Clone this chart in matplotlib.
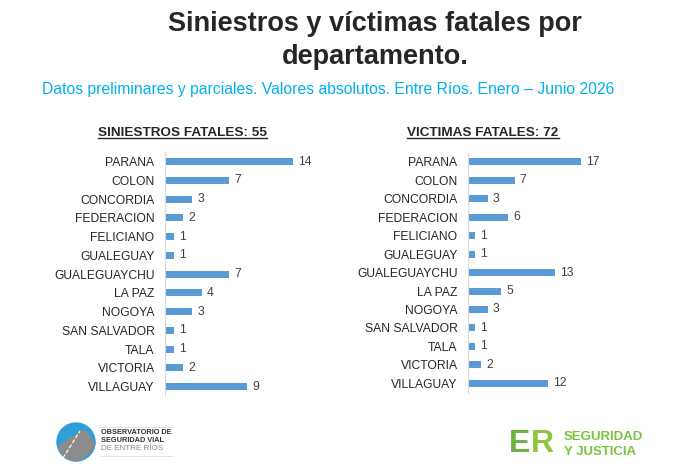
import matplotlib
matplotlib.use("Agg")
import matplotlib.pyplot as plt
from matplotlib.patches import Circle, Polygon

plt.rcParams['font.family'] = ['Liberation Sans', 'DejaVu Sans']

departamentos = ['PARANA', 'COLON', 'CONCORDIA', 'FEDERACION', 'FELICIANO', 'GUALEGUAY',
                 'GUALEGUAYCHU', 'LA PAZ', 'NOGOYA', 'SAN SALVADOR', 'TALA', 'VICTORIA', 'VILLAGUAY']
siniestros = [14, 7, 3, 2, 1, 1, 7, 4, 3, 1, 1, 2, 9]
victimas = [17, 7, 3, 6, 1, 1, 13, 5, 3, 1, 1, 2, 12]

W, H = 696, 471
BAR = '#5B9BD5'

fig = plt.figure(figsize=(W / 100, H / 100), dpi=100)


def fx(x):
    return x / W


def fy(y):
    return 1 - y / H


def panel(left, top, bottom, xmax, px_unit, valores, titulo, tx):
    width = xmax * px_unit
    ax = fig.add_axes([fx(left), fy(bottom), width / W, (bottom - top) / H])
    y = range(len(departamentos))
    ax.barh(y, valores, height=0.38, color=BAR)
    ax.set_ylim(len(departamentos) - 0.5, -0.5)
    ax.set_xlim(0, xmax)
    ax.set_yticks(list(y))
    ax.set_yticklabels(departamentos, fontsize=8.7, color='#262626')
    ax.tick_params(axis='y', length=0, pad=7.5)
    ax.set_xticks([])
    for s in ['top', 'right', 'bottom']:
        ax.spines[s].set_visible(False)
    ax.spines['left'].set_color('#d9d9d9')
    for i, v in enumerate(valores):
        ax.text(v + 5 / px_unit, i, str(v), va='center', ha='left',
                fontsize=8.7, color='#404040')
    fig.text(fx(tx), fy(133), titulo, ha='center', va='center', fontsize=9.7,
             fontweight='bold', color='#262626')
    return ax


panel(165, 152.3, 396, 15.3, 128 / 14, siniestros, 'SINIESTROS FATALES: 55', 182.5)
panel(468, 152.5, 392.6, 21, 113.4 / 17, victimas, 'VICTIMAS FATALES: 72', 483)

# underline the panel titles
fig.canvas.draw()
r = fig.canvas.get_renderer()
for t in fig.texts[-2:]:
    bb = t.get_window_extent(r)
    fig.add_artist(plt.Line2D([bb.x0 / W, bb.x1 / W], [(bb.y0 + 1) / H, (bb.y0 + 1) / H],
                              color='#262626', lw=1.0))

fig.text(fx(375), fy(31), 'Siniestros y víctimas fatales por', ha='center', va='baseline',
         fontsize=19.5, fontweight='bold', color='#262626')
fig.text(fx(375), fy(63.5), 'departamento.', ha='center', va='baseline',
         fontsize=19.5, fontweight='bold', color='#262626')
fig.text(fx(328.5), fy(94), 'Datos preliminares y parciales. Valores absolutos. Entre Ríos. Enero – Junio 2026',
         ha='center', va='baseline', fontsize=11.3, color='#00B0F0')

# logos
lax = fig.add_axes([0, 0, 1, 1], facecolor='none')
lax.set_xlim(0, W)
lax.set_ylim(H, 0)
lax.axis('off')
lax.add_patch(Circle((76, 442), 19, color='#2E9FD8'))
lax.add_patch(Polygon([[58, 447], [72, 437], [85, 430], [95, 444], [88, 455],
                       [76, 461], [64, 457]], closed=True, color='#8C8C8C'))
lax.plot([63, 80], [458, 431], color='white', lw=0.8, ls='--')
lax.text(101, 433, 'OBSERVATORIO DE', fontsize=5.3, fontweight='bold', color='#333333', va='center')
lax.text(101, 441, 'SEGURIDAD VIAL', fontsize=5.3, fontweight='bold', color='#333333', va='center')
lax.text(101, 449, 'DE ENTRE RÍOS', fontsize=5.8, color='#888888', va='center')
lax.plot([101, 172], [427, 427], color='#dddddd', lw=0.6)
lax.plot([101, 172], [456, 456], color='#dddddd', lw=0.6)

lax.text(509, 444, 'E', fontsize=23, fontweight='bold', color='#6DB33F', va='center', ha='left')
lax.text(531, 444, 'R', fontsize=23, fontweight='bold', color='#8DC63F', va='center', ha='left')
lax.text(564, 437, 'SEGURIDAD', fontsize=9.5, fontweight='bold', color='#7CC242', va='center')
lax.text(564, 452, 'Y JUSTICIA', fontsize=9.5, fontweight='bold', color='#7CC242', va='center')

fig.savefig('out.png', dpi=100, facecolor='white')
